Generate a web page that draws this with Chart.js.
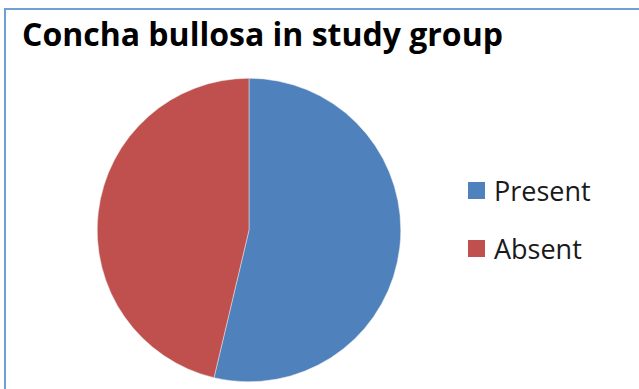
<!DOCTYPE html>
<html>
<head>
<meta charset="utf-8">
<script src="https://cdn.jsdelivr.net/npm/chart.js@4"></script>
<style>
  html, body { margin: 0; padding: 0; background: #fff; }
  body { width: 639px; height: 389px; position: relative; overflow: hidden; font-family: "Open Sans", sans-serif; }
  #frame { position: absolute; left: 4px; top: 8px; width: 700px; height: 500px; border: 2px solid #6f9fd8; }
  #title { position: absolute; left: 22px; top: 12px; font-weight: bold; font-size: 32px; line-height: normal; color: #000; white-space: nowrap; }
  #pieWrap { position: absolute; left: 95px; top: 76px; width: 308px; height: 308px; }
  #legend { position: absolute; left: 468px; top: 161px; }
  .item { display: flex; align-items: center; height: 58px; font-size: 27px; color: #1a1a1a; }
  .box { width: 17px; height: 17px; margin-right: 9px; }
</style>
</head>
<body>
<div id="frame"></div>
<div id="title">Concha bullosa in study group</div>
<div id="pieWrap"><canvas id="pie" width="308" height="308"></canvas></div>
<div id="legend"></div>
<script>
var labels = ['Present', 'Absent'];
var values = [29, 25];
var colors = ['#4f81bd', '#c0504d'];

(function () {
    var ctx = document.getElementById('pie');
    new Chart(ctx, {
        type: 'pie',
        data: {
            labels: labels,
            datasets: [{ data: values, backgroundColor: colors, borderWidth: 0.5, borderColor: '#e8e8e8', hoverOffset: 0 }]
        },
        options: {
            responsive: false,
            animation: false,
            layout: { padding: 2 },
            plugins: { legend: { display: false }, title: { display: false }, tooltip: { enabled: false } }
        }
    });

    var legend = document.getElementById('legend');
    labels.forEach(function (lab, i) {
        var row = document.createElement('div');
        row.className = 'item';
        var box = document.createElement('span');
        box.className = 'box';
        box.style.background = colors[i];
        var txt = document.createElement('span');
        txt.textContent = lab;
        row.appendChild(box);
        row.appendChild(txt);
        legend.appendChild(row);
    });
})();
</script>
</body>
</html>
